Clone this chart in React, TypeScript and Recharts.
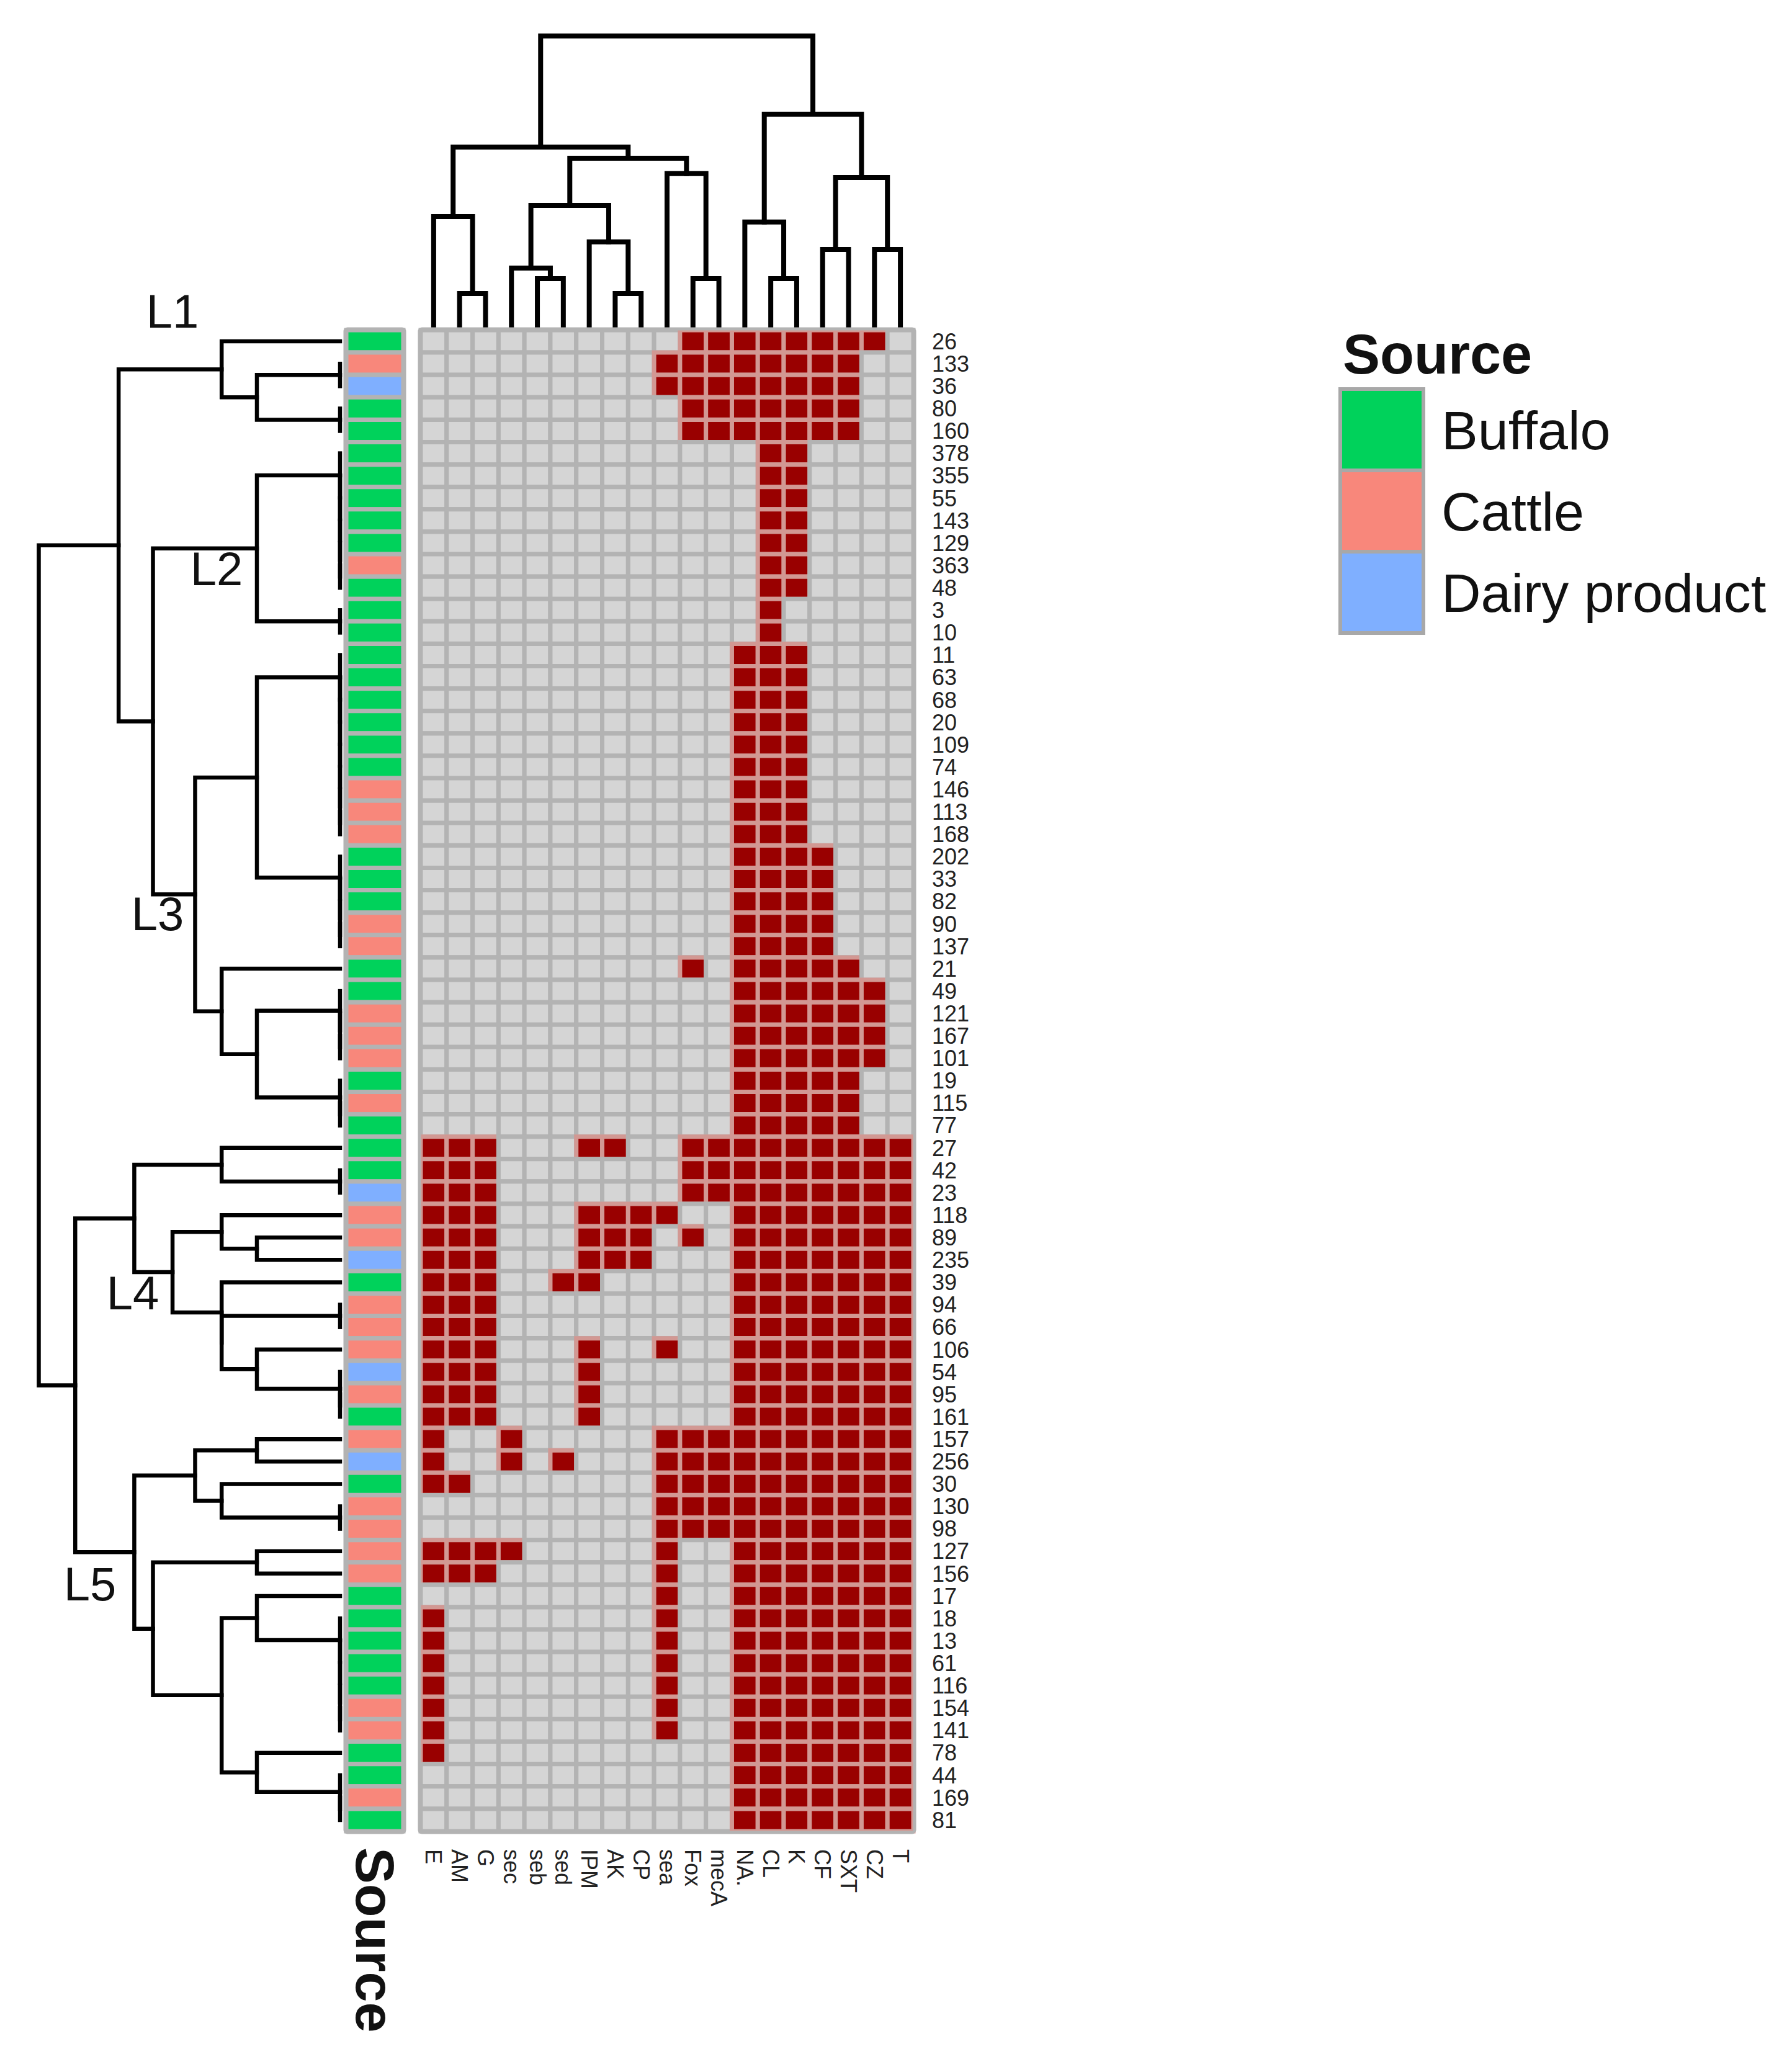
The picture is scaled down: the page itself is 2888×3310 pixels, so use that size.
import { BarChart, Bar, Cell, XAxis, YAxis, ScatterChart, Scatter } from "recharts";

const FONT = '"Liberation Sans", Arial, Helvetica, sans-serif';

// antibiotic / gene columns, left to right
const COLS = ["E", "AM", "G", "sec", "seb", "sed", "IPM", "AK", "CP", "sea", "Fox", "mecA", "NA.", "CL", "K", "CF", "SXT", "CZ", "T"];

// isolates, top to bottom
const ROW_IDS = [
  "26", "133", "36", "80", "160", "378", "355", "55", "143", "129", "363", "48", "3", "10", "11", "63", "68",
  "20", "109", "74", "146", "113", "168", "202", "33", "82", "90", "137", "21", "49", "121", "167", "101",
  "19", "115", "77", "27", "42", "23", "118", "89", "235", "39", "94", "66", "106", "54", "95", "161",
  "157", "256", "30", "130", "98", "127", "156", "17", "18", "13", "61", "116", "154", "141", "78", "44",
  "169", "81",
];

// B = Buffalo, C = Cattle, D = Dairy product
const ROW_SOURCE = "BCDBBBBBBBCBBBBBBBBBCCCBBBCCBBCCCBCBBBDCCDBCCCDCBCDBCCCCBBBBBCCBBCB".split("");

// 1 = resistant / gene present
const HITS = [
  "0000000000111111110",
  "0000000001111111100",
  "0000000001111111100",
  "0000000000111111100",
  "0000000000111111100",
  "0000000000000110000",
  "0000000000000110000",
  "0000000000000110000",
  "0000000000000110000",
  "0000000000000110000",
  "0000000000000110000",
  "0000000000000110000",
  "0000000000000100000",
  "0000000000000100000",
  "0000000000001110000",
  "0000000000001110000",
  "0000000000001110000",
  "0000000000001110000",
  "0000000000001110000",
  "0000000000001110000",
  "0000000000001110000",
  "0000000000001110000",
  "0000000000001110000",
  "0000000000001111000",
  "0000000000001111000",
  "0000000000001111000",
  "0000000000001111000",
  "0000000000001111000",
  "0000000000101111100",
  "0000000000001111110",
  "0000000000001111110",
  "0000000000001111110",
  "0000000000001111110",
  "0000000000001111100",
  "0000000000001111100",
  "0000000000001111100",
  "1110001100111111111",
  "1110000000111111111",
  "1110000000111111111",
  "1110001111001111111",
  "1110001110101111111",
  "1110001110001111111",
  "1110011000001111111",
  "1110000000001111111",
  "1110000000001111111",
  "1110001001001111111",
  "1110001000001111111",
  "1110001000001111111",
  "1110001000001111111",
  "1001000001111111111",
  "1001010001111111111",
  "1100000001111111111",
  "0000000001111111111",
  "0000000001111111111",
  "1111000001001111111",
  "1110000001001111111",
  "0000000001001111111",
  "1000000001001111111",
  "1000000001001111111",
  "1000000001001111111",
  "1000000001001111111",
  "1000000001001111111",
  "1000000001001111111",
  "1000000000001111111",
  "0000000000001111111",
  "0000000000001111111",
  "0000000000001111111",
];

const SOURCE_LEVELS = ["Buffalo", "Cattle", "Dairy product"];
const SOURCE_CODES = ["B", "C", "D"];
const SOURCE_COLORS = ["#00D25B", "#F8877B", "#7FAFFF"];

// row dendrogram merges: [left, right, height]; numbers are rows, "#k" is merge k
const ROW_MERGES: [number | string, number | string, number][] = [
  [1, 2, 0], [3, 4, 0], ["#0", "#1", 0.276], [0, "#2", 0.393],
  [10, 11, 0], [9, "#4", 0], [8, "#5", 0], [7, "#6", 0], [6, "#7", 0], [5, "#8", 0],
  [12, 13, 0], ["#9", "#10", 0.276],
  [21, 22, 0], [20, "#12", 0], [19, "#13", 0], [18, "#14", 0], [17, "#15", 0], [16, "#16", 0], [15, "#17", 0], [14, "#18", 0],
  [26, 27, 0], [25, "#20", 0], [24, "#21", 0], [23, "#22", 0],
  ["#19", "#23", 0.276],
  [31, 32, 0], [30, "#25", 0], [29, "#26", 0],
  [34, 35, 0], [33, "#28", 0],
  ["#27", "#29", 0.276], [28, "#30", 0.393],
  ["#24", "#31", 0.481], ["#11", "#32", 0.621], ["#3", "#33", 0.735],
  [37, 38, 0], [36, "#35", 0.393],
  [40, 41, 0.276], [39, "#37", 0.393],
  [43, 44, 0], [47, 48, 0], [46, "#40", 0], [45, "#41", 0.276], ["#39", "#42", 0.393], [42, "#43", 0.393],
  ["#38", "#44", 0.556], ["#36", "#45", 0.683],
  [49, 50, 0.276], [52, 53, 0], [51, "#48", 0.393], ["#47", "#49", 0.481],
  [54, 55, 0.276],
  [61, 62, 0], [60, "#52", 0], [59, "#53", 0], [58, "#54", 0], [57, "#55", 0], [56, "#56", 0.276],
  [65, 66, 0], [64, "#58", 0], [63, "#59", 0.276],
  ["#57", "#60", 0.393], ["#51", "#61", 0.621], ["#50", "#62", 0.683],
  ["#46", "#63", 0.879], ["#34", "#64", 1.0],
];

// column dendrogram merges
const COL_MERGES: [number | string, number | string, number][] = [
  [1, 2, 0.117], [0, "#0", 0.381],
  [4, 5, 0.168], [3, "#2", 0.204],
  [7, 8, 0.117], [6, "#4", 0.294],
  ["#3", "#5", 0.419],
  [10, 11, 0.168], [9, "#7", 0.528],
  ["#6", "#8", 0.581], ["#1", "#9", 0.619],
  [13, 14, 0.168], [12, "#11", 0.362],
  [15, 16, 0.268], [17, 18, 0.268], ["#13", "#14", 0.515],
  ["#12", "#15", 0.732], ["#10", "#16", 1.0],
];

const CLUSTER_LABELS = ["L1", "L2", "L3", "L4", "L5"];
const CLUSTER_POS = [[278, 501], [349, 916], [254, 1472], [214, 2083], [145, 2552]];

function links(merges: [number | string, number | string, number][]) {
  const pos: number[] = [];
  const hts: number[] = [];
  const get = (r: number | string) =>
    typeof r === "number" ? [r, 0] : [pos[+r.slice(1)], hts[+r.slice(1)]];
  return merges.map(([a, b, h], k) => {
    const [pa, ha] = get(a);
    const [pb, hb] = get(b);
    pos[k] = (pa + pb) / 2;
    hts[k] = h;
    return [
      { p: pa, h: ha },
      { p: pa, h },
      { p: pb, h },
      { p: pb, h: hb },
    ];
  });
}

const rowLinks = links(ROW_MERGES);
const colLinks = links(COL_MERGES);

const heatRows = ROW_IDS.map((id, r) => {
  const row: Record<string, any> = { id, src: 1 };
  COLS.forEach((_, c) => (row["c" + c] = 1));
  return row;
});

const srcColor = (r: number) => SOURCE_COLORS[SOURCE_CODES.indexOf(ROW_SOURCE[r])];

const ColTick = (props: any) => {
  const { x, y, payload } = props;
  return (
    <text
      x={x}
      y={y}
      transform={`rotate(90 ${x} ${y})`}
      dominantBaseline="central"
      textAnchor="start"
      fontSize={36}
      fontFamily={FONT}
      fill="#222"
    >
      {COLS[Math.floor(payload.value)]}
    </text>
  );
};

const SourceTick = (props: any) => {
  const { x, y } = props;
  return (
    <text
      x={x}
      y={y}
      transform={`rotate(90 ${x} ${y})`}
      dominantBaseline="central"
      textAnchor="start"
      fontSize={88}
      fontWeight="bold"
      fontFamily={FONT}
      fill="#111"
    >
      Source
    </text>
  );
};

const noDot = () => <g />;

export default function App() {
  return (
    <div style={{ position: "absolute", left: 0, top: 0, width: 2888, height: 3310, background: "#fff", overflow: "hidden", fontFamily: FONT }}>
      {/* column dendrogram */}
      <div style={{ position: "absolute", left: 648, top: 28 }}>
        <ScatterChart width={854} height={510} margin={{ top: 30, right: 30, bottom: 10, left: 30 }}>
          <XAxis type="number" dataKey="p" domain={[-0.5, 18.5]} hide />
          <YAxis type="number" dataKey="h" domain={[0, 1]} hide />
          {colLinks.map((pts, i) => (
            <Scatter
              key={i}
              data={pts}
              line={{ stroke: "#000", strokeWidth: 8, strokeLinecap: "square" }}
              shape={noDot}
              isAnimationActive={false}
            />
          ))}
        </ScatterChart>
      </div>

      {/* row dendrogram */}
      <div style={{ position: "absolute", left: 30, top: 500 }}>
        <ScatterChart width={530} height={2471} margin={{ top: 32, right: 12, bottom: 20, left: 32.5 }}>
          <XAxis type="number" dataKey="h" domain={[0, 1]} reversed hide />
          <YAxis type="number" dataKey="p" domain={[-0.5, 66.5]} reversed hide />
          {rowLinks.map((pts, i) => (
            <Scatter
              key={i}
              data={pts}
              line={{ stroke: "#000", strokeWidth: 6.5, strokeLinecap: "square" }}
              shape={noDot}
              isAnimationActive={false}
            />
          ))}
        </ScatterChart>
      </div>

      {/* source annotation column */}
      <div style={{ position: "absolute", left: 540, top: 510 }}>
        <BarChart
          layout="vertical"
          width={120}
          height={2801}
          data={heatRows}
          margin={{ top: 22, right: 10, bottom: 0, left: 18 }}
          barCategoryGap={0}
          barGap={0}
        >
          <XAxis
            type="number"
            domain={[0, 1]}
            ticks={[0.5]}
            height={360}
            tickSize={0}
            tickMargin={26}
            axisLine={false}
            tickLine={false}
            tick={<SourceTick />}
          />
          <YAxis type="category" dataKey="id" hide />
          <Bar dataKey="src" isAnimationActive={false}>
            {heatRows.map((_, r) => (
              <Cell key={r} fill={srcColor(r)} stroke="#B3B3B3" strokeWidth={7} />
            ))}
          </Bar>
        </BarChart>
      </div>

      {/* heatmap */}
      <div style={{ position: "absolute", left: 660, top: 510 }}>
        <BarChart
          layout="vertical"
          width={922}
          height={2641}
          data={heatRows}
          margin={{ top: 22, right: 0, bottom: 0, left: 18 }}
          barCategoryGap={0}
          barGap={0}
        >
          <XAxis
            type="number"
            domain={[0, 19]}
            ticks={COLS.map((_, i) => i + 0.5)}
            interval={0}
            height={200}
            tickSize={0}
            tickMargin={29}
            axisLine={false}
            tickLine={false}
            tick={<ColTick />}
          />
          <YAxis
            type="category"
            dataKey="id"
            orientation="right"
            width={110}
            interval={0}
            tickSize={0}
            tickMargin={30}
            axisLine={false}
            tickLine={false}
            tick={{ fontSize: 36, fill: "#222", fontFamily: FONT }}
          />
          {COLS.map((_, c) => (
            <Bar key={c} dataKey={"c" + c} stackId="m" isAnimationActive={false}>
              {heatRows.map((_, r) => {
                const hit = HITS[r][c] === "1";
                return (
                  <Cell
                    key={r}
                    fill={hit ? "#990000" : "#D5D5D5"}
                    stroke={hit ? "#D29893" : "#B3B3B3"}
                    strokeWidth={7}
                  />
                );
              })}
            </Bar>
          ))}
        </BarChart>
      </div>

      {/* legend and cluster labels */}
      <svg width={2888} height={3310} style={{ position: "absolute", left: 0, top: 0, pointerEvents: "none" }}>
        <rect x={676} y={530} width={798} height={2423} rx={4} fill="none" stroke="#B3B3B3" strokeWidth={5} />
        <rect x={556} y={530} width={96} height={2423} rx={4} fill="none" stroke="#B3B3B3" strokeWidth={5} />
        <text x={2164} y={602} fontSize={90} fontWeight="bold" fontFamily={FONT} fill="#111">
          Source
        </text>
        {SOURCE_LEVELS.map((name, i) => (
          <g key={name}>
            <rect x={2160} y={627 + i * 131} width={134} height={131} fill={SOURCE_COLORS[i]} stroke="#A8A8A8" strokeWidth={6} />
            <text x={2323} y={627 + i * 131 + 97} fontSize={88} fontFamily={FONT} fill="#111">
              {name}
            </text>
          </g>
        ))}
        {CLUSTER_LABELS.map((l, i) => (
          <text
            key={l}
            x={CLUSTER_POS[i][0]}
            y={CLUSTER_POS[i][1]}
            textAnchor="middle"
            dominantBaseline="central"
            fontSize={76}
            fontFamily={FONT}
            fill="#111"
          >
            {l}
          </text>
        ))}
      </svg>
    </div>
  );
}
